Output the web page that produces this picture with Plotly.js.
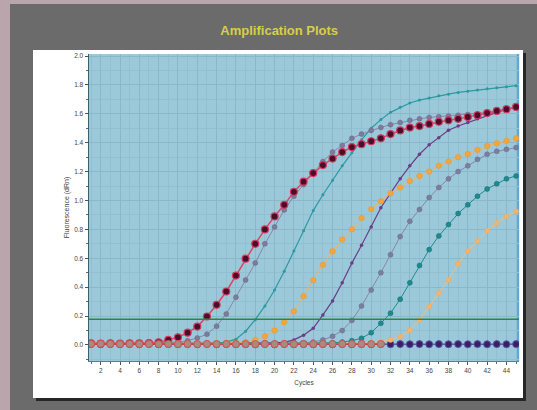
<!DOCTYPE html>
<html><head><meta charset="utf-8">
<script src="https://cdn.plot.ly/plotly-3.0.1.min.js"></script>
<style>
html,body{margin:0;padding:0;width:537px;height:410px;overflow:hidden;background:#bba5ad;}
#frame{position:absolute;left:10px;top:4px;width:527px;height:406px;background:#6b6b6b;}
#card{position:absolute;left:33px;top:50px;width:490px;height:348px;background:#ffffff;box-shadow:3px 3px 0 #262626;}
#chart{position:absolute;left:0;top:0;width:537px;height:410px;}
</style></head><body>
<div id="frame"></div><div id="card"></div><div id="chart"></div>
<script>
const cycles = [1,2,3,4,5,6,7,8,9,10,11,12,13,14,15,16,17,18,19,20,21,22,23,24,25,26,27,28,29,30,31,32,33,34,35,36,37,38,39,40,41,42,43,44,45];
const baseCycles = [1,2,3,4,5,6,7,8,9,10,11,12,13,14,15,16,17,18,19,20,21,22,23,24,25,26,27,28,29,30,31];

const wellA = [0.012,0.010,0.011,0.010,0.012,0.011,0.013,0.018,0.035,0.053,0.085,0.127,0.197,0.278,0.370,0.480,0.597,0.700,0.800,0.890,0.970,1.060,1.130,1.190,1.245,1.290,1.335,1.370,1.390,1.410,1.430,1.460,1.485,1.505,1.515,1.530,1.545,1.555,1.565,1.578,1.590,1.605,1.620,1.632,1.648];
const wellB = [0.010,0.012,0.010,0.011,0.010,0.012,0.011,0.012,0.015,0.020,0.030,0.048,0.075,0.130,0.215,0.330,0.450,0.567,0.700,0.817,0.935,1.030,1.110,1.190,1.270,1.335,1.380,1.430,1.460,1.485,1.505,1.525,1.540,1.555,1.565,1.575,1.580,1.585,1.590,1.595,1.600,1.610,1.620,1.630,1.640];
const wellC = [0.010,0.010,0.011,0.010,0.010,0.011,0.010,0.010,0.011,0.010,0.010,0.011,0.010,0.012,0.020,0.040,0.095,0.175,0.270,0.380,0.510,0.650,0.790,0.930,1.040,1.140,1.240,1.330,1.420,1.500,1.560,1.610,1.645,1.675,1.695,1.710,1.725,1.736,1.748,1.756,1.765,1.773,1.780,1.788,1.795];
const wellD = [0.012,0.011,0.012,0.010,0.011,0.012,0.011,0.010,0.012,0.011,0.010,0.012,0.011,0.012,0.013,0.015,0.020,0.035,0.060,0.100,0.158,0.233,0.338,0.448,0.555,0.648,0.730,0.800,0.878,0.940,0.995,1.050,1.090,1.135,1.170,1.200,1.240,1.270,1.300,1.322,1.350,1.377,1.396,1.412,1.430];
const wellE = [0.010,0.010,0.011,0.010,0.010,0.011,0.010,0.010,0.011,0.010,0.010,0.011,0.010,0.010,0.011,0.010,0.010,0.011,0.012,0.014,0.018,0.035,0.068,0.115,0.208,0.305,0.430,0.567,0.690,0.817,0.950,1.050,1.150,1.240,1.320,1.385,1.435,1.486,1.516,1.540,1.565,1.590,1.610,1.630,1.645];
const wellF = [0.011,0.010,0.011,0.012,0.010,0.011,0.010,0.011,0.012,0.010,0.011,0.010,0.011,0.012,0.010,0.011,0.010,0.011,0.012,0.010,0.011,0.012,0.014,0.020,0.035,0.060,0.100,0.170,0.270,0.380,0.500,0.625,0.750,0.856,0.938,1.020,1.090,1.150,1.200,1.240,1.285,1.320,1.340,1.354,1.366];
const wellG = [0.010,0.011,0.010,0.010,0.011,0.010,0.010,0.011,0.010,0.010,0.011,0.010,0.010,0.011,0.010,0.010,0.011,0.010,0.010,0.011,0.010,0.012,0.011,0.012,0.013,0.015,0.020,0.030,0.046,0.085,0.150,0.220,0.317,0.430,0.550,0.660,0.755,0.833,0.910,0.970,1.030,1.080,1.116,1.150,1.170];
const wellH = [0.012,0.011,0.012,0.011,0.012,0.011,0.012,0.011,0.012,0.011,0.012,0.011,0.012,0.011,0.012,0.011,0.012,0.011,0.012,0.011,0.012,0.011,0.012,0.011,0.012,0.011,0.012,0.012,0.013,0.015,0.022,0.035,0.058,0.100,0.174,0.266,0.360,0.450,0.562,0.650,0.720,0.790,0.845,0.890,0.925];
const wellNTC = [0.006,0.005,0.006,0.005,0.006,0.005,0.006,0.005,0.006,0.005,0.006,0.005,0.006,0.005,0.006,0.005,0.006,0.005,0.006,0.005,0.006,0.005,0.006,0.005,0.006,0.005,0.006,0.005,0.006,0.005,0.006,0.005,0.006,0.005,0.006,0.005,0.006,0.005,0.006,0.005,0.006,0.005,0.006,0.005,0.006];
const wellBase = [0.007,0.008,0.007,0.006,0.007,0.006,0.007,0.006,0.007,0.006,0.007,0.006,0.007,0.006,0.007,0.006,0.007,0.006,0.007,0.006,0.007,0.006,0.007,0.006,0.007,0.006,0.007,0.006,0.007,0.006,0.007];

const threshold = 0.178;
const xTickVals = [2,4,6,8,10,12,14,16,18,20,22,24,26,28,30,32,34,36,38,40,42,44];
const yTickVals = [0,0.2,0.4,0.6,0.8,1.0,1.2,1.4,1.6,1.8,2.0];
const yTickText = ['0.0','0.2','0.4','0.6','0.8','1.0','1.2','1.4','1.6','1.8','2.0'];

function tr(x, y, lineColor, lineW, mColor, mSize, mLineColor, mLineW){
  return {x:x, y:y, type:'scatter', mode:'lines+markers', hoverinfo:'skip',
    line:{color:lineColor, width:lineW},
    marker:{color:mColor, size:mSize, line:{color:mLineColor, width:mLineW}}};
}

const data = [
  tr(cycles, wellNTC, '#4b2f7a', 1, '#3b1f66', 7, '#5a5aa8', 1),
  tr(cycles, wellH, '#f3bd7e', 1, '#f2b46c', 5, '#e8a862', 0.5),
  tr(cycles, wellG, '#1d8c8e', 1, '#1f8a8e', 5, '#176f74', 0.5),
  tr(cycles, wellF, '#8487a6', 1, '#7b7e9e', 5, '#6a6d8e', 0.5),
  tr(cycles, wellE, '#6a3d86', 1.2, '#6a3d86', 3.5, '#6a3d86', 0),
  tr(cycles, wellD, '#f4b25a', 1, '#f3a53c', 5.5, '#e39632', 0.5),
  tr(cycles, wellC, '#2a9aa0', 1.2, '#2a9aa0', 3, '#2a9aa0', 0),
  tr(cycles, wellB, '#8a86a6', 1, '#7d7a9c', 5, '#6e6b8c', 0.5),
  tr(cycles, wellA, '#d44a66', 1.5, '#4e0c2c', 7, '#d23a5a', 1.2),
  tr(baseCycles, wellBase, '#e03a3a', 1.5, '#a88a7e', 7, '#d0584e', 1)
];

const layout = {
  width:537, height:410,
  paper_bgcolor:'rgba(0,0,0,0)',
  plot_bgcolor:'#9bc9da',
  showlegend:false,
  margin:{l:89, r:18, t:54, b:49, pad:0},
  title:{text:'Amplification Plots', font:{family:'Liberation Sans, Arial, sans-serif', size:13, color:'#d6cf48', weight:'bold'},
    x:0.52, xref:'container', xanchor:'center', y:0.925, yref:'container', yanchor:'middle'},
  xaxis:{range:[0.79,45.3], tickmode:'array', tickvals:xTickVals, ticks:'outside', ticklen:3, tickcolor:'#555',
    tickfont:{family:'Liberation Sans, Arial, sans-serif', size:6.5, color:'#444'},
    showgrid:true, gridcolor:'#88b8cb', gridwidth:1, zeroline:false,
    showline:true, linecolor:'#5c7f8c', linewidth:1, mirror:false,
    minor:{dtick:1, tick0:0, ticks:'outside', ticklen:2, tickcolor:'#666', showgrid:true, gridcolor:'#92c0d2', gridwidth:1},
    title:{text:'Cycles', font:{family:'Liberation Sans, Arial, sans-serif', size:6.5, color:'#444'}, standoff:7}},
  yaxis:{range:[-0.111,2.014], tickmode:'array', tickvals:yTickVals, ticktext:yTickText, ticks:'outside', ticklen:3, tickcolor:'#555',
    tickfont:{family:'Liberation Sans, Arial, sans-serif', size:6.5, color:'#444'},
    showgrid:true, gridcolor:'#88b8cb', gridwidth:1, zeroline:false,
    showline:true, linecolor:'#3d5f6c', linewidth:1.5,
    minor:{dtick:0.1, tick0:0, ticks:'outside', ticklen:2, tickcolor:'#666', showgrid:true, gridcolor:'#92c0d2', gridwidth:1},
    title:{text:'Fluorescence (dRn)', font:{family:'Liberation Sans, Arial, sans-serif', size:7, color:'#444'}, standoff:3}},
  shapes:[
    {type:'line', xref:'paper', yref:'y', x0:0, x1:1, y0:threshold, y1:threshold, line:{color:'#2a8a3a', width:1.6}, layer:'above'},
    {type:'line', xref:'paper', yref:'paper', x0:0.997, x1:0.997, y0:0, y1:1, line:{color:'#5fa8d6', width:3}, layer:'below'}
  ]
};

Plotly.newPlot('chart', data, layout, {staticPlot:true, displayModeBar:false});
</script>
</body></html>
